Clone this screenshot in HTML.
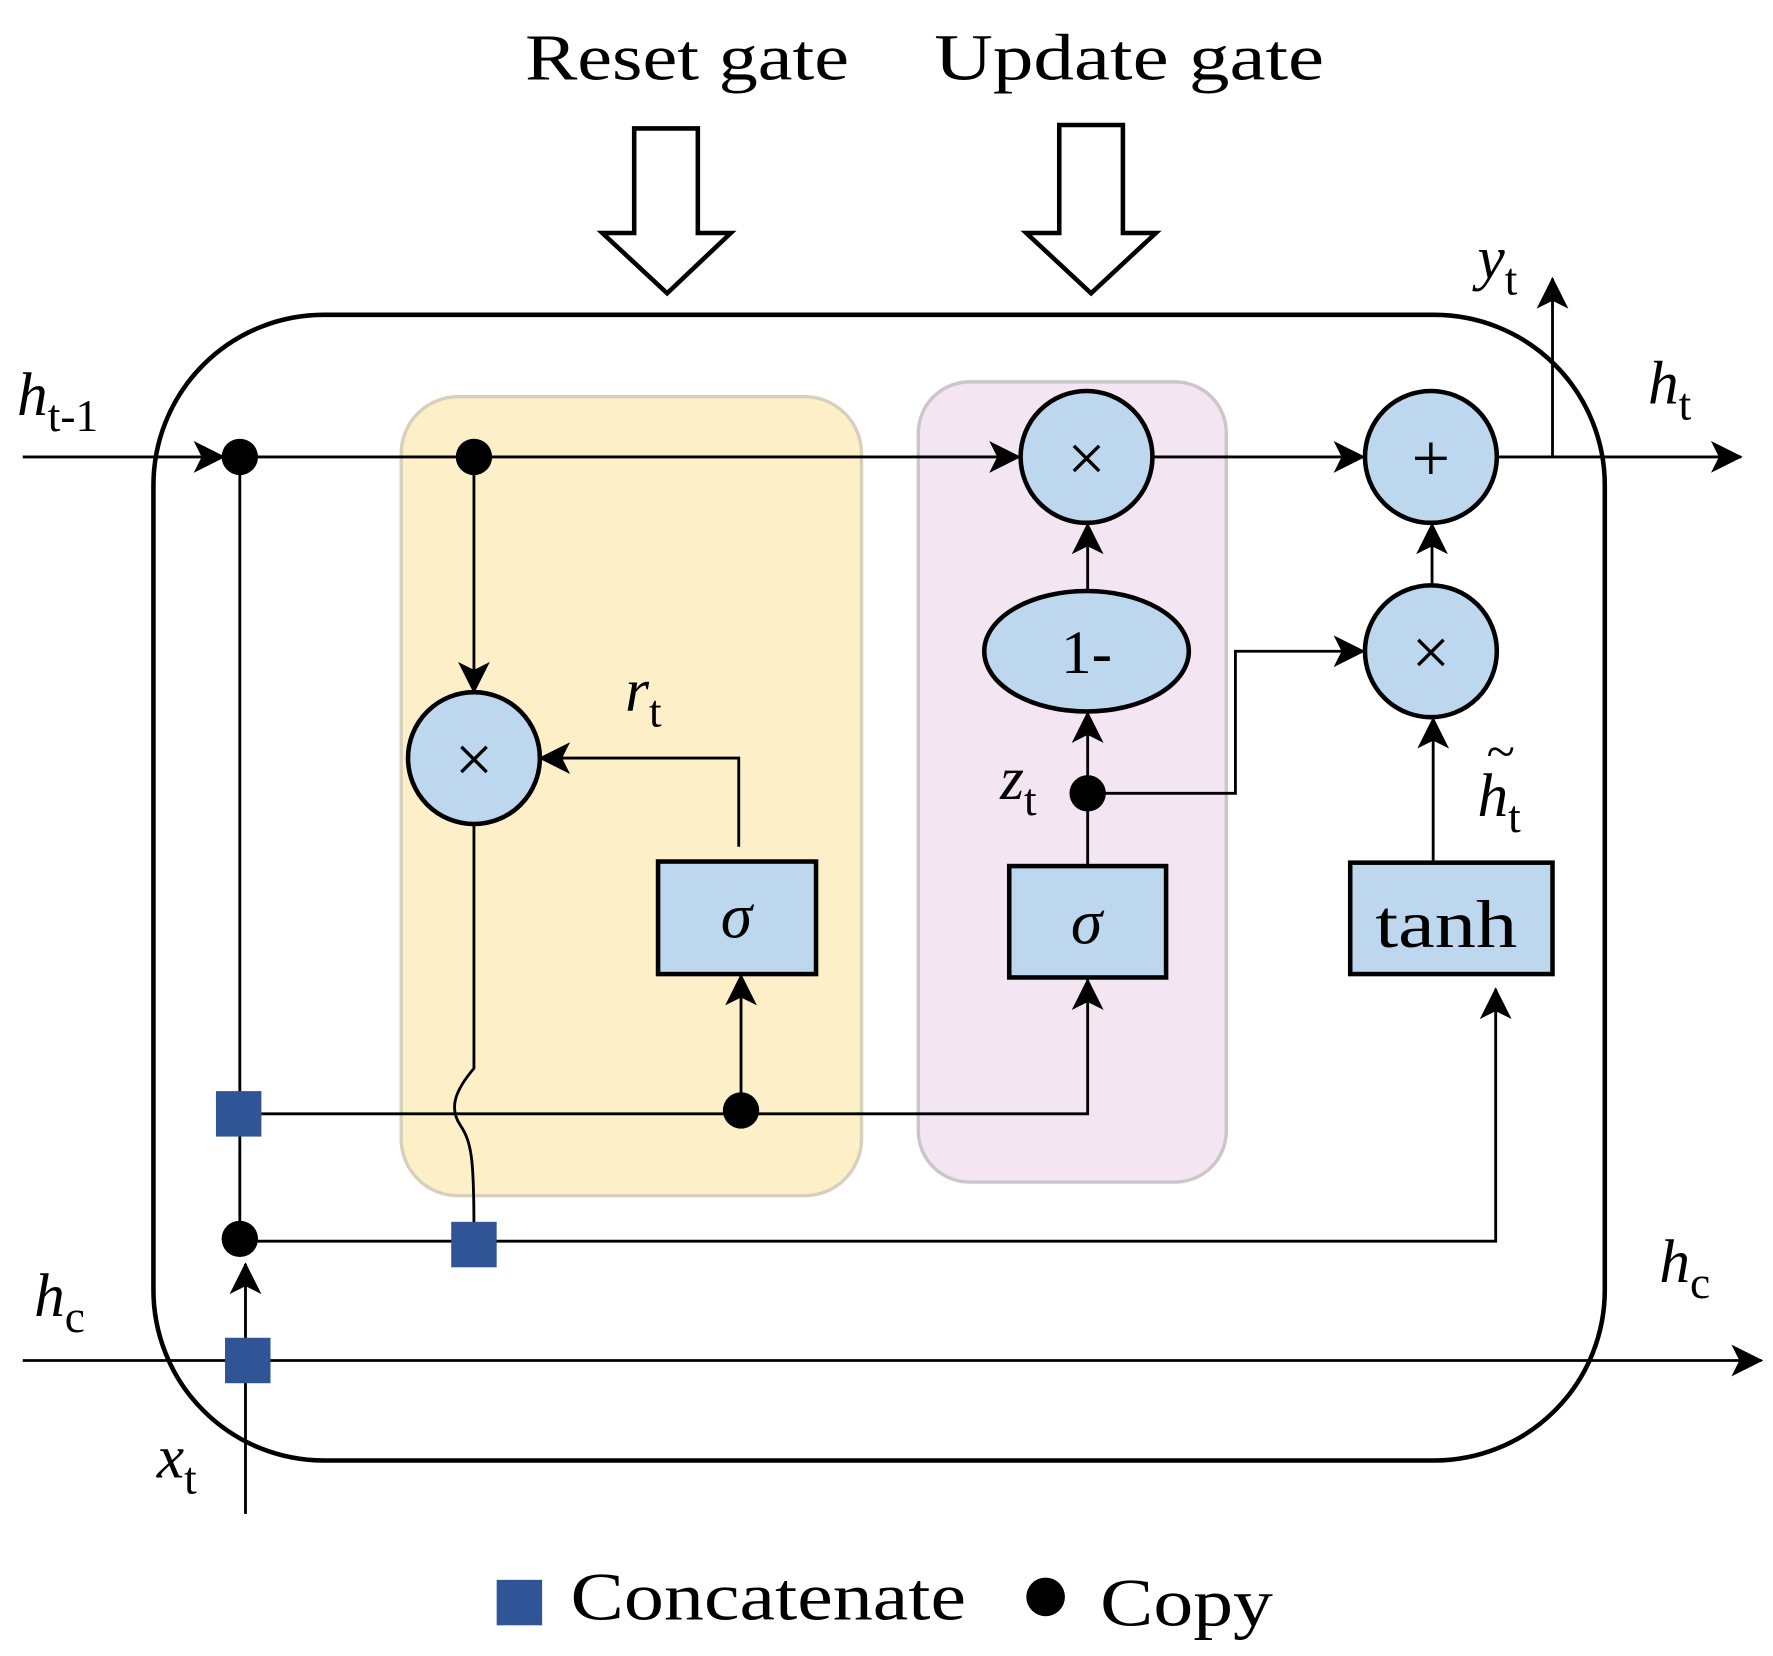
<!DOCTYPE html>
<html><head><meta charset="utf-8"><style>html,body{margin:0;padding:0;background:#fff}svg{display:block}</style></head>
<body>
<svg width="1773" height="1656" viewBox="0 0 1560 1457" preserveAspectRatio="none" xmlns="http://www.w3.org/2000/svg" font-family="'Liberation Serif', serif">
<defs>
<marker id="b" viewBox="0 0 20 20" refX="19" refY="10" markerWidth="28" markerHeight="28" markerUnits="userSpaceOnUse" orient="auto">
<path d="M0,0 L20,10 L0,20 L5,10 Z" fill="#000"/></marker>
</defs>
<rect width="1560" height="1457" fill="#fff"/>
<text x="462" y="70" font-size="58" textLength="285" lengthAdjust="spacingAndGlyphs">Reset gate</text>
<text x="822" y="70" font-size="58" textLength="343" lengthAdjust="spacingAndGlyphs">Update gate</text>
<path d="M558,113 L614,113 L614,205 L643,205 L587,258 L530,205 L558,205 Z" fill="#fff" stroke="#000" stroke-width="4"/>
<path d="M932,110 L988,110 L988,205 L1017,205 L960,258 L903,205 L932,205 Z" fill="#fff" stroke="#000" stroke-width="4"/>
<rect x="135" y="277" width="1277" height="1008" rx="150" fill="none" stroke="#000" stroke-width="4"/>
<rect x="353" y="349" width="405" height="703" rx="50" fill="#fdf0c8" stroke="#d6d0bc" stroke-width="3"/>
<rect x="808" y="336" width="271" height="704" rx="45" fill="#f3e5f2" stroke="#cbc6ca" stroke-width="3"/>
<g stroke="#000" stroke-width="2.5" fill="none">
<line x1="20" y1="402" x2="197" y2="402" marker-end="url(#b)"/>
<line x1="211" y1="402" x2="897" y2="402" marker-end="url(#b)"/>
<line x1="1014" y1="402" x2="1200" y2="402" marker-end="url(#b)"/>
<line x1="1317" y1="402" x2="1532" y2="402" marker-end="url(#b)"/>
<line x1="1366" y1="402" x2="1366" y2="245" marker-end="url(#b)"/>
<line x1="211" y1="402" x2="211" y2="1090"/>
<line x1="417" y1="402" x2="417" y2="609" marker-end="url(#b)"/>
<path d="M417,725 L417,940 C400,960 395,975 405,990 C415,1005 417,1020 417,1080"/>
<path d="M650,745 L650,667 L475,667" marker-end="url(#b)"/>
<path d="M230,980 L957,980 L957,862" marker-end="url(#b)"/>
<line x1="652" y1="977" x2="652" y2="858" marker-end="url(#b)"/>
<line x1="957" y1="762" x2="957" y2="627" marker-end="url(#b)"/>
<path d="M957,698 L1087,698 L1087,573 L1200,573" marker-end="url(#b)"/>
<line x1="957" y1="520" x2="957" y2="461" marker-end="url(#b)"/>
<line x1="1260" y1="515" x2="1260" y2="461" marker-end="url(#b)"/>
<line x1="1261" y1="757" x2="1261" y2="632" marker-end="url(#b)"/>
<path d="M211,1092 L1316,1092 L1316,870" marker-end="url(#b)"/>
<line x1="20" y1="1197" x2="1550" y2="1197" marker-end="url(#b)"/>
<line x1="216" y1="1332" x2="216" y2="1112" marker-end="url(#b)"/>
</g>
<g fill="#bdd7ee" stroke="#000" stroke-width="4">
<circle cx="956" cy="402" r="58"/>
<circle cx="1259" cy="402" r="58"/>
<ellipse cx="956" cy="573" rx="90" ry="53"/>
<circle cx="1259" cy="573" r="58"/>
<circle cx="417" cy="667" r="58"/>
<rect x="579" y="758" width="139" height="99"/>
<rect x="888" y="762" width="138" height="98"/>
<rect x="1188" y="759" width="178" height="98"/>
</g>
<g fill="#000">
<circle cx="211" cy="402" r="16"/>
<circle cx="417" cy="402" r="16"/>
<circle cx="652" cy="977" r="16"/>
<circle cx="957" cy="698" r="16"/>
<circle cx="211" cy="1090" r="16"/>
<circle cx="920" cy="1405" r="17"/>
</g>
<g fill="#2f5597">
<rect x="190" y="960" width="40" height="40"/>
<rect x="397" y="1075" width="40" height="40"/>
<rect x="198" y="1177" width="40" height="40"/>
<rect x="437" y="1390" width="40" height="40"/>
</g>
<g font-size="60" text-anchor="middle">
<text x="956" y="423">×</text>
<text x="1259" y="423">+</text>
<text x="1259" y="594">×</text>
<text x="417" y="688">×</text>
<text x="956" y="592" font-size="54">1-</text>
<text x="648" y="825" font-size="56" font-style="italic">σ</text>
<text x="956" y="830" font-size="56" font-style="italic">σ</text>
</g>
<text x="1210" y="833" font-size="60" textLength="125" lengthAdjust="spacingAndGlyphs">tanh</text>
<g font-size="54" font-style="italic">
<text x="15" y="365">h<tspan font-style="normal" font-size="40" dy="14">t-1</tspan></text>
<text x="1450" y="355">h<tspan font-style="normal" font-size="40" dy="14">t</tspan></text>
<text x="1300" y="245">y<tspan font-style="normal" font-size="40" dy="14">t</tspan></text>
<text x="550" y="625">r<tspan font-style="normal" font-size="40" dy="14">t</tspan></text>
<text x="880" y="703">z<tspan font-style="normal" font-size="40" dy="14">t</tspan></text>
<text x="1300" y="718">h<tspan font-style="normal" font-size="40" dy="14">t</tspan></text>
<text x="1308" y="676" font-style="normal" font-size="46">~</text>
<text x="30" y="1158">h<tspan font-style="normal" font-size="40" dy="14">c</tspan></text>
<text x="1460" y="1128">h<tspan font-style="normal" font-size="40" dy="14">c</tspan></text>
<text x="138" y="1300">x<tspan font-style="normal" font-size="40" dy="14">t</tspan></text>
</g>
<text x="502" y="1425" font-size="60" textLength="348" lengthAdjust="spacingAndGlyphs">Concatenate</text>
<text x="968" y="1430" font-size="60" textLength="152" lengthAdjust="spacingAndGlyphs">Copy</text>
</svg>
</body></html>
